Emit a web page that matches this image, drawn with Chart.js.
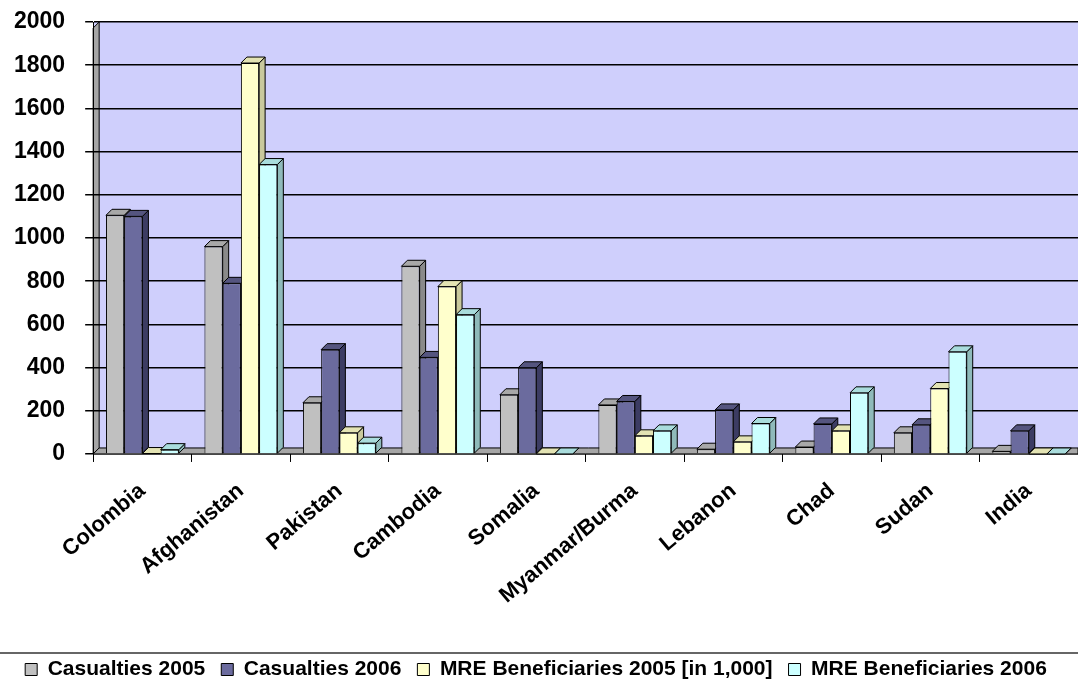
<!DOCTYPE html>
<html>
<head>
<meta charset="utf-8">
<script src="https://cdn.jsdelivr.net/npm/chart.js@4.4.1/dist/chart.umd.min.js"></script>
<style>
    html, body { margin: 0; padding: 0; background: #ffffff; }
    #wrap { width: 1078px; height: 687px; }
</style>
</head>
<body>
<div id="wrap"><canvas id="casualties-chart"></canvas></div>
<script>
// Values
const countries = ['Colombia', 'Afghanistan', 'Pakistan', 'Cambodia', 'Somalia',
    'Myanmar/Burma', 'Lebanon', 'Chad', 'Sudan', 'India'];
const casualties2005 = [1105, 960, 237, 869, 274, 227, 22, 32, 98, 12];
const casualties2006 = [1100, 790, 483, 447, 399, 243, 204, 139, 135, 107];
const mre2005 = [2, 1810, 98, 775, 0, 84, 56, 107, 303, 0];
const mre2006 = [20, 1340, 50, 645, 0, 107, 141, 283, 473, 0];
const yMax = 2000;
const yStep = 200;

const FONT = '"Liberation Sans", Arial, sans-serif';
const DEPTH = 6;

function poly(ctx, pts, fill) {
    ctx.beginPath();
    ctx.moveTo(pts[0][0], pts[0][1]);
    for (let i = 1; i < pts.length; i++) ctx.lineTo(pts[i][0], pts[i][1]);
    ctx.closePath();
    ctx.fillStyle = fill;
    ctx.fill();
    ctx.stroke();
}

// back wall, left wall, and the rule above the legend
const walls = {
    id: 'walls',
    beforeDraw(chart) {
        const ctx = chart.ctx;
        const a = chart.chartArea;
        ctx.save();
        ctx.fillStyle = '#cfcffc';
        ctx.fillRect(a.left, a.top, a.right - a.left, a.bottom - a.top);
        ctx.strokeStyle = '#000000';
        ctx.lineWidth = 1;
        poly(ctx, [[a.left, a.top + DEPTH], [a.left + DEPTH, a.top], [a.left + DEPTH, a.bottom - DEPTH], [a.left, a.bottom]], '#a6a6a6');
        ctx.restore();
    },
    afterDraw(chart) {
        const ctx = chart.ctx;
        const lg = chart.legend;
        const y = lg.top + 10;
        ctx.save();
        ctx.strokeStyle = '#333333';
        ctx.lineWidth = 1.5;
        ctx.beginPath();
        ctx.moveTo(0, y);
        ctx.lineTo(chart.width, y);
        ctx.stroke();
        ctx.restore();
    }
};

// floor, then side and top faces of every bar, drawn before the front faces
const box3d = {
    id: 'box3d',
    beforeDatasetsDraw(chart) {
        const ctx = chart.ctx;
        const a = chart.chartArea;
        ctx.save();
        ctx.strokeStyle = '#000000';
        ctx.lineWidth = 1;
        poly(ctx, [[a.left, a.bottom], [a.left + DEPTH, a.bottom - DEPTH], [a.right, a.bottom - DEPTH], [a.right, a.bottom]], '#a6a6a6');
        const bars = [];
        chart.data.datasets.forEach((ds, i) => {
            chart.getDatasetMeta(i).data.forEach(bar => {
                bars.push({ p: bar.getProps(['x', 'y', 'base', 'width'], true), ds: ds });
            });
        });
        bars.forEach(b => {
            const r = b.p.x + b.p.width / 2;
            poly(ctx, [[r, b.p.y], [r + DEPTH, b.p.y - DEPTH], [r + DEPTH, b.p.base - DEPTH], [r, b.p.base]], b.ds.sideColor);
        });
        bars.forEach(b => {
            const l = b.p.x - b.p.width / 2, r = b.p.x + b.p.width / 2;
            poly(ctx, [[l, b.p.y], [l + DEPTH, b.p.y - DEPTH], [r + DEPTH, b.p.y - DEPTH], [r, b.p.y]], b.ds.topColor);
        });
        ctx.restore();
    }
};

new Chart(document.getElementById('casualties-chart'), {
    type: 'bar',
    data: {
        labels: countries,
        datasets: [{
            label: 'Casualties 2005',
            data: casualties2005,
            backgroundColor: '#c0c0c0',
            sideColor: '#8a8a8a',
            topColor: '#a8a8a8',
            borderColor: '#000000',
            borderWidth: 1
        }, {
            label: 'Casualties 2006',
            data: casualties2006,
            backgroundColor: '#6b6b9e',
            sideColor: '#3c3c63',
            topColor: '#55557f',
            borderColor: '#000000',
            borderWidth: 1
        }, {
            label: 'MRE Beneficiaries 2005 [in 1,000]',
            data: mre2005,
            backgroundColor: '#ffffcc',
            sideColor: '#c9c99c',
            topColor: '#e3e3b3',
            borderColor: '#000000',
            borderWidth: 1
        }, {
            label: 'MRE Beneficiaries 2006',
            data: mre2006,
            backgroundColor: '#ccffff',
            sideColor: '#8fbaba',
            topColor: '#a9dcdc',
            borderColor: '#000000',
            borderWidth: 1
        }]
    },
    options: {
        responsive: true,
        maintainAspectRatio: false,
        animation: false,
        categoryPercentage: 0.74,
        barPercentage: 1.0,
        layout: {
            padding: { left: -6, top: 0, right: 0, bottom: -3 }
        },
        scales: {
            x: {
                grid: {
                    display: true,
                    drawOnChartArea: false,
                    drawTicks: true,
                    tickLength: 8,
                    color: '#000000'
                },
                border: { color: '#000000', width: 1 },
                ticks: {
                    color: '#000000',
                    maxRotation: 40,
                    minRotation: 40,
                    autoSkip: false,
                    padding: 16,
                    font: { family: FONT, size: 22, weight: 'bold' }
                },
                afterFit: function(scale) {
                    scale.height += 18;
                    scale.paddingLeft = 0;
                    scale.paddingRight = 0;
                }
            },
            y: {
                min: 0,
                max: yMax,
                grid: {
                    color: '#000000',
                    lineWidth: 1.5,
                    tickLength: 8
                },
                border: { color: '#000000', width: 1 },
                ticks: {
                    stepSize: yStep,
                    color: '#000000',
                    padding: 20,
                    font: { family: FONT, size: 23, weight: 'bold' },
                    callback: function(value) {
                        return String(value);
                    }
                },
                afterFit: function(scale) {
                    scale.paddingTop = 22;
                }
            }
        },
        plugins: {
            legend: {
                position: 'bottom',
                labels: {
                    color: '#000000',
                    boxWidth: 12,
                    boxHeight: 12,
                    padding: 16,
                    font: { family: FONT, size: 21, weight: 'bold' }
                }
            },
            tooltip: { enabled: false }
        }
    },
    plugins: [walls, box3d]
});
</script>
</body>
</html>
